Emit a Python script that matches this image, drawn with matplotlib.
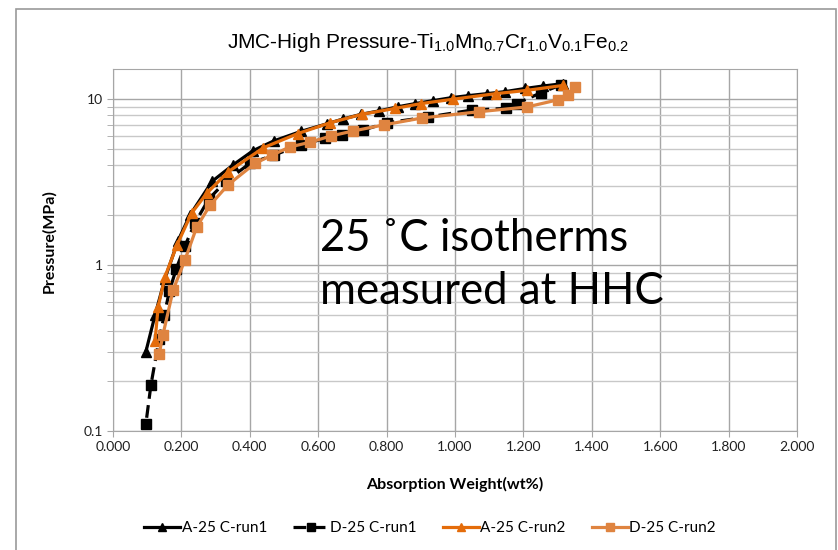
import matplotlib
matplotlib.use("Agg")
import matplotlib.pyplot as plt
from matplotlib.patches import Rectangle
from matplotlib.ticker import FixedLocator, FuncFormatter, LogLocator, NullFormatter

# A-25 C-run1 (absorption, run 1)
a1_wt = [0.096, 0.123, 0.152, 0.19, 0.225, 0.29, 0.35, 0.41, 0.47, 0.55, 0.625, 0.673,
         0.725, 0.778, 0.833, 0.883, 0.936, 0.988, 1.038, 1.094, 1.146, 1.205, 1.257, 1.316]
a1_p = [0.30, 0.50, 0.83, 1.4, 2.0, 3.2, 4.0, 4.9, 5.6, 6.4, 7.1, 7.6,
        8.1, 8.5, 9.0, 9.4, 9.8, 10.2, 10.5, 10.8, 11.1, 11.6, 12.0, 12.4]

# D-25 C-run1 (desorption, run 1)
d1_wt = [1.31, 1.25, 1.18, 1.15, 1.05, 0.92, 0.80, 0.73, 0.67, 0.62, 0.55, 0.47, 0.40,
         0.33, 0.28, 0.24, 0.21, 0.185, 0.165, 0.15, 0.135, 0.111, 0.096]
d1_p = [12.2, 10.9, 9.4, 8.8, 8.6, 7.8, 7.2, 6.5, 6.1, 5.8, 5.3, 4.6, 4.1,
        3.2, 2.5, 1.8, 1.3, 0.95, 0.70, 0.50, 0.36, 0.19, 0.11]

# A-25 C-run2
a2_wt = [0.123, 0.132, 0.152, 0.187, 0.23, 0.275, 0.336, 0.44, 0.54, 0.634, 0.727,
         0.825, 0.90, 0.995, 1.12, 1.21, 1.316]
a2_p = [0.35, 0.56, 0.85, 1.32, 2.06, 2.72, 3.64, 5.1, 6.2, 7.2, 8.1,
        8.8, 9.4, 10.0, 10.8, 11.3, 12.1]

# D-25 C-run2
d2_wt = [1.35, 1.33, 1.30, 1.21, 1.07, 0.903, 0.792, 0.702, 0.637, 0.576, 0.517, 0.465,
         0.415, 0.336, 0.284, 0.245, 0.21, 0.176, 0.146, 0.135]
d2_p = [11.8, 10.6, 9.9, 8.97, 8.4, 7.7, 7.0, 6.43, 6.0, 5.5, 5.15, 4.6,
        4.1, 3.04, 2.3, 1.7, 1.07, 0.71, 0.38, 0.29]

x_ticks = [0.0, 0.2, 0.4, 0.6, 0.8, 1.0, 1.2, 1.4, 1.6, 1.8, 2.0]
y_ticks = [0.1, 1, 10]

_ORANGE = "#E46C0A"
_ORANGE_LT = "#DF8440"
_GRID = "#a6a6a6"
_GRID_MINOR = "#c8c8c8"

plt.rcParams["mathtext.fontset"] = "custom"
plt.rcParams["mathtext.rm"] = "Liberation Sans"
plt.rcParams["mathtext.it"] = "Liberation Sans"

fig = plt.figure(figsize=(8.38, 5.5), dpi=100)
fig.patch.set_facecolor("white")
# outer chart frame (partly cut off on the left/top like the source)
fig.patches.append(Rectangle((16 / 838, -0.05), (836 - 16) / 838, 1.05 - 9 / 550,
                             transform=fig.transFigure, fill=False,
                             edgecolor="#9a9a9a", linewidth=1.2))

ax = fig.add_axes([113 / 838, 1 - 431 / 550, (797 - 113) / 838, (431 - 69) / 550])

ax.plot(a1_wt, a1_p, color="black", linewidth=2.3, marker="^", markersize=7,
        label="A-25 C-run1", zorder=3)
ax.plot(d1_wt, d1_p, color="black", linewidth=2.3, linestyle=(0, (4, 2)), marker="s",
        markersize=7, label="D-25 C-run1", zorder=3)
ax.plot(a2_wt, a2_p, color=_ORANGE, linewidth=2.3, marker="^", markersize=7,
        label="A-25 C-run2", zorder=4)
ax.plot(d2_wt, d2_p, color=_ORANGE_LT, linewidth=2.3, marker="s", markersize=7,
        label="D-25 C-run2", zorder=4)

ax.set_yscale("log")
ax.set_xlim(0, 2.0)
ax.set_ylim(0.1, 15.2)
ax.xaxis.set_major_locator(FixedLocator(x_ticks))
ax.xaxis.set_major_formatter(FuncFormatter(lambda v, _: f"{v:.3f}"))
ax.yaxis.set_major_locator(FixedLocator(y_ticks))
ax.yaxis.set_major_formatter(FuncFormatter(lambda v, _: f"{v:g}"))
ax.yaxis.set_minor_locator(LogLocator(base=10, subs=range(2, 10)))
ax.yaxis.set_minor_formatter(NullFormatter())

ax.grid(True, which="major", color=_GRID, linewidth=1.0)
ax.grid(True, which="minor", axis="y", color=_GRID_MINOR, linewidth=1.0)
ax.set_axisbelow(True)
for spine in ax.spines.values():
    spine.set_color(_GRID)
ax.tick_params(which="both", length=4, color=_GRID, labelsize=10, labelcolor="#202020")
for lbl in ax.get_xticklabels() + ax.get_yticklabels():
    lbl.set_fontfamily("Lato")

ax.set_xlabel("Absorption Weight(wt%)", fontsize=11.5, fontweight="bold",
              fontfamily="Lato", labelpad=17)
ax.set_ylabel("Pressure(MPa)", fontsize=11.5, fontweight="bold",
              fontfamily="Lato", labelpad=19)
ax.yaxis.label.set_y(0.525)

fig.text(0.511, 1 - 42 / 550,
         r"JMC-High Pressure-Ti$_{1.0}$Mn$_{0.7}$Cr$_{1.0}$V$_{0.1}$Fe$_{0.2}$",
         ha="center", va="center", fontsize=15, fontfamily="Liberation Sans")

ax.text(0.303, 0.459, "25 \u02daC isotherms\nmeasured at HHC", transform=ax.transAxes,
        fontsize=31.5, fontfamily="Lato", ha="left", va="center", linespacing=1.35)

fig.legend(loc="center", bbox_to_anchor=(0.513, 1 - 528 / 550), ncol=4, frameon=False,
           prop={"family": "Lato", "size": 11}, handlelength=2.35, handletextpad=0.1,
           columnspacing=1.7, markerscale=0.9)

fig.savefig("out.png", dpi=100, facecolor="white")
